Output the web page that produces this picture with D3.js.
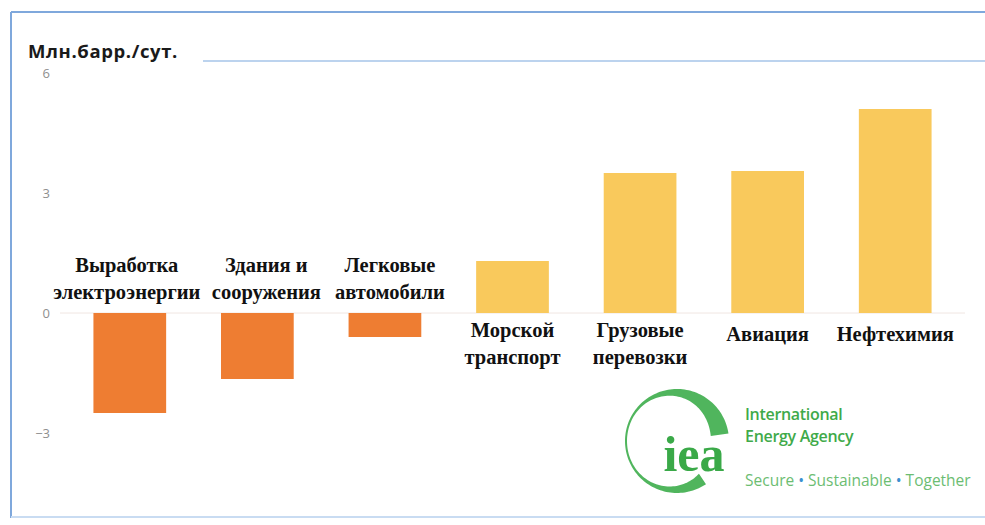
<!DOCTYPE html>
<html>
<head>
<meta charset="utf-8">
<script src="https://cdn.jsdelivr.net/npm/d3@7"></script>
<style>
  body { margin: 0; background: #fff; }
  svg { display: block; }
</style>
</head>
<body>
<div id="vis"></div>
<script>
const width = 985;
const height = 525;

// данные
const categories = [
  "Выработка электроэнергии",
  "Здания и сооружения",
  "Легковые автомобили",
  "Морской транспорт",
  "Грузовые перевозки",
  "Авиация",
  "Нефтехимия"
];
const labelLines = [
  ["Выработка", "электроэнергии"],
  ["Здания и", "сооружения"],
  ["Легковые", "автомобили"],
  ["Морской", "транспорт"],
  ["Грузовые", "перевозки"],
  ["Авиация"],
  ["Нефтехимия"]
];
const values = [-2.5, -1.65, -0.6, 1.3, 3.5, 3.55, 5.1];
const yTicks = [-3, 0, 3, 6];
const unitLabel = "Млн.барр./сут.";

// небольшие сдвиги подписей, как на исходной картинке
const labelShift = { "Выработка электроэнергии": -3, "Здания и сооружения": 9, "Легковые автомобили": 5 };

const SVG = d3.select("#vis").append("svg")
  .attr("width", width).attr("height", height);

// рамка
SVG.append("line").attr("x1", 11).attr("x2", width).attr("y1", 12).attr("y2", 12)
  .style("stroke", "#7fa8dc").style("stroke-width", 2);
SVG.append("line").attr("x1", 11).attr("x2", 11).attr("y1", 12).attr("y2", 518)
  .style("stroke", "#7fa8dc").style("stroke-width", 2);
SVG.append("line").attr("x1", 11).attr("x2", width).attr("y1", 517).attr("y2", 517)
  .style("stroke", "#c9dcf2").style("stroke-width", 2);

// заголовок
SVG.append("text")
  .attr("x", 28).attr("y", 58)
  .text(unitLabel)
  .style("font-family", "'Open Sans', sans-serif")
  .style("font-weight", "bold")
  .style("font-size", "18.5px")
  .style("letter-spacing", "0.6px")
  .style("fill", "#1a1a1a");
SVG.append("line").attr("x1", 203).attr("x2", width).attr("y1", 61).attr("y2", 61)
  .style("stroke", "#bcd3ee").style("stroke-width", 2);

const x = d3.scaleBand()
  .domain(categories)
  .range([66, 959])
  .paddingInner(0.43)
  .paddingOuter(0.215);

const y = d3.scaleLinear()
  .domain([-4.5, 6])
  .range([493, 73]);

// ось Y
const yAxis = d3.axisLeft(y).tickValues(yTicks).tickSize(0).tickPadding(0);
SVG.append("g")
  .attr("transform", "translate(50,0)")
  .call(yAxis)
  .call(g => g.select(".domain").remove())
  .selectAll("text")
  .style("font-family", "'Open Sans', sans-serif")
  .style("font-size", "13px")
  .style("fill", "#8f8f8f");

// нулевая линия
SVG.append("line")
  .attr("x1", 60).attr("x2", 965)
  .attr("y1", y(0)).attr("y2", y(0))
  .style("stroke", "#f0e6e2").style("stroke-width", 1);

const rows = categories.map((c, i) => ({ cat: c, value: values[i], lines: labelLines[i] }));

SVG.selectAll("rect.bar")
  .data(rows)
  .enter()
  .append("rect")
  .attr("class", "bar")
  .attr("x", d => x(d.cat))
  .attr("width", x.bandwidth())
  .attr("y", d => y(Math.max(0, d.value)))
  .attr("height", d => Math.abs(y(d.value) - y(0)))
  .style("fill", d => d.value < 0 ? "#ee7d32" : "#f9c95c");

// подписи категорий
const labels = SVG.selectAll("text.cat")
  .data(rows)
  .enter()
  .append("text")
  .attr("class", "cat")
  .attr("text-anchor", "middle")
  .style("font-family", "'Liberation Serif', 'Times New Roman', serif")
  .style("font-weight", "bold")
  .style("font-size", "20.5px")
  .style("fill", "#111");

labels.each(function (d) {
  const cx = x(d.cat) + x.bandwidth() / 2 + (labelShift[d.cat] || 0);
  let y0;
  if (d.value < 0) y0 = y(0) - 13 - 28 * (d.lines.length - 1);
  else y0 = d.lines.length > 1 ? y(0) + 24 : y(0) + 28;
  d3.select(this).selectAll("tspan")
    .data(d.lines)
    .enter()
    .append("tspan")
    .attr("x", cx)
    .attr("y", (l, j) => y0 + j * 27)
    .text(l => l);
});

// логотип IEA
const logo = SVG.append("g").attr("transform", "translate(677,441)");
const swoosh = d3.areaRadial()
  .angle(a => a)
  .innerRadius(a => 52 - (2 + 16 * Math.pow((1 - Math.cos(a - 4.7)) / 2, 1.6)))
  .outerRadius(52)
  .curve(d3.curveLinear);
const angles = d3.range(2.55, 2 * Math.PI + 1.45, 0.04);
logo.append("path")
  .attr("d", swoosh(angles))
  .style("fill", "#3dad4b")
  .style("opacity", 0.9);
logo.append("text")
  .attr("x", 17).attr("y", 30)
  .attr("text-anchor", "middle")
  .text("iea")
  .style("font-family", "'Liberation Serif', serif")
  .style("font-weight", "bold")
  .style("font-size", "50px")
  .style("fill", "#3aa948");

SVG.append("text").attr("x", 745).attr("y", 420).text("International")
  .style("font-family", "'Open Sans', sans-serif").style("font-weight", "600")
  .style("font-size", "16px").style("letter-spacing", "-0.3px").style("fill", "#3faa4a");
SVG.append("text").attr("x", 745).attr("y", 442).text("Energy Agency")
  .style("font-family", "'Open Sans', sans-serif").style("font-weight", "600")
  .style("font-size", "16px").style("letter-spacing", "-0.3px").style("fill", "#3faa4a");

const slogan = SVG.append("text").attr("x", 745).attr("y", 486)
  .style("font-family", "'Open Sans', sans-serif")
  .style("font-size", "15.5px").style("fill", "#6cbd72");
slogan.append("tspan").text("Secure ");
slogan.append("tspan").text("•").style("fill", "#3b8fd0");
slogan.append("tspan").text(" Sustainable ");
slogan.append("tspan").text("•").style("fill", "#3b8fd0");
slogan.append("tspan").text(" Together");
</script>
</body>
</html>
